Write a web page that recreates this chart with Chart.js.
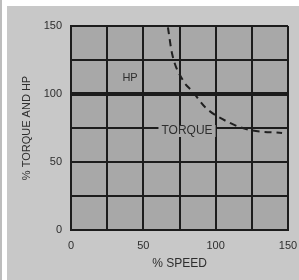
<!DOCTYPE html>
<html><head><meta charset="utf-8">
<script src="https://cdn.jsdelivr.net/npm/chart.js@4/dist/chart.umd.min.js"></script>
<style>html,body{margin:0;padding:0;background:#fff;}#wrap{width:299px;height:280px;}</style>
</head><body><div id="wrap"><canvas id="c" width="299" height="280"></canvas></div>
<script>
const speedTicks = [0, 25, 50, 75, 100, 125, 150];
const pctTicks = [0, 25, 50, 75, 100, 125, 150];
const hpSpeed = [0, 150];
const hpValue = [100, 100];
const torqueSpeed = [67, 69.8, 77.4, 84.3, 92.6, 109.9, 123.7, 145.9];
const torqueValue = [149, 130, 110, 101.5, 90.4, 78.7, 73.5, 71.3];
const curveLabels = [
  {text: 'HP', x: 40.8, y: 111.5},
  {text: 'TORQUE', x: 80.2, y: 72.8}
];

const PLOT_BG = '#a8a8a8';
const OUTER_BG = '#c8c8c8';
const INK = '#1c1c1c';
const TXT = '#2e2e2e';
const FAM = '"Liberation Sans", Arial, sans-serif';

const bgPlugin = {
  id: 'bg',
  beforeDraw(chart) {
    const ctx = chart.ctx, a = chart.chartArea;
    ctx.save();
    ctx.fillStyle = '#ffffff';
    ctx.fillRect(0, 0, chart.width, chart.height);
    ctx.fillStyle = '#bdbdbd';
    ctx.fillRect(0, 0, 2, chart.height);
    ctx.fillStyle = OUTER_BG;
    ctx.fillRect(7, 6, chart.width - 7, chart.height - 6);
    ctx.fillStyle = PLOT_BG;
    ctx.fillRect(a.left, a.top, a.right - a.left, a.bottom - a.top);
    ctx.restore();
  },
  afterDatasetsDraw(chart) {
    const ctx = chart.ctx, xs = chart.scales.x, ys = chart.scales.y;
    ctx.save();
    ctx.font = '11px ' + FAM;
    ctx.textAlign = 'center';
    ctx.textBaseline = 'middle';
    curveLabels.forEach(l => {
      const px = xs.getPixelForValue(l.x), py = ys.getPixelForValue(l.y);
      ctx.font = (l.text === 'HP' ? '11px ' : '12px ') + FAM;
      const w = ctx.measureText(l.text).width;
      if (l.text !== 'HP') {
        ctx.fillStyle = PLOT_BG;
        ctx.fillRect(px - w / 2 - 3, py - 6, w + 6, 12);
      }
      ctx.fillStyle = TXT;
      ctx.fillText(l.text, px, py);
    });
    ctx.restore();
  }
};

new Chart(document.getElementById('c'), {
  type: 'scatter',
  data: {
    datasets: [
      {
        label: 'HP',
        data: hpSpeed.map((s, i) => ({x: s, y: hpValue[i]})),
        showLine: true, borderColor: INK, borderWidth: 4, pointRadius: 0
      },
      {
        label: 'TORQUE',
        data: torqueSpeed.map((s, i) => ({x: s, y: torqueValue[i]})),
        showLine: true, borderColor: '#202020', borderWidth: 2, borderDash: [7, 5],
        cubicInterpolationMode: 'monotone', pointRadius: 0
      }
    ]
  },
  options: {
    responsive: false, animation: false,
    layout: {padding: {left: 0, top: 26, right: 11, bottom: 0}},
    plugins: {legend: {display: false}, tooltip: {enabled: false}},
    scales: {
      x: {
        type: 'linear', min: 0, max: 150,
        afterBuildTicks(s) { s.ticks = speedTicks.map(v => ({value: v})); },
        afterFit(s) { s.height = 50; s.paddingLeft = 0; s.paddingRight = 0; },
        grid: {color: INK, lineWidth: 2, drawTicks: false},
        border: {color: INK, width: 2},
        ticks: {
          padding: 9, color: TXT, maxRotation: 0, autoSkip: false,
          font: {family: FAM, size: 11},
          callback: v => (v % 50 === 0 ? String(v) : '')
        },
        title: {display: true, text: '% SPEED', color: TXT, padding: {top: 0, bottom: 9},
          font: {family: FAM, size: 12}}
      },
      y: {
        type: 'linear', min: 0, max: 150,
        afterBuildTicks(s) { s.ticks = pctTicks.map(v => ({value: v})); },
        afterFit(s) { s.width = 71; s.paddingTop = 0; s.paddingBottom = 0; },
        grid: {color: INK, lineWidth: 2, drawTicks: false},
        border: {color: INK, width: 2},
        ticks: {
          padding: 9, color: TXT, autoSkip: false,
          font: {family: FAM, size: 11},
          callback: v => (v % 50 === 0 ? String(v) : '')
        },
        title: {display: true, text: '% TORQUE AND HP', color: TXT, padding: {top: 20, bottom: 0},
          font: {family: FAM, size: 11}}
      }
    }
  },
  plugins: [bgPlugin]
});
</script></body></html>
